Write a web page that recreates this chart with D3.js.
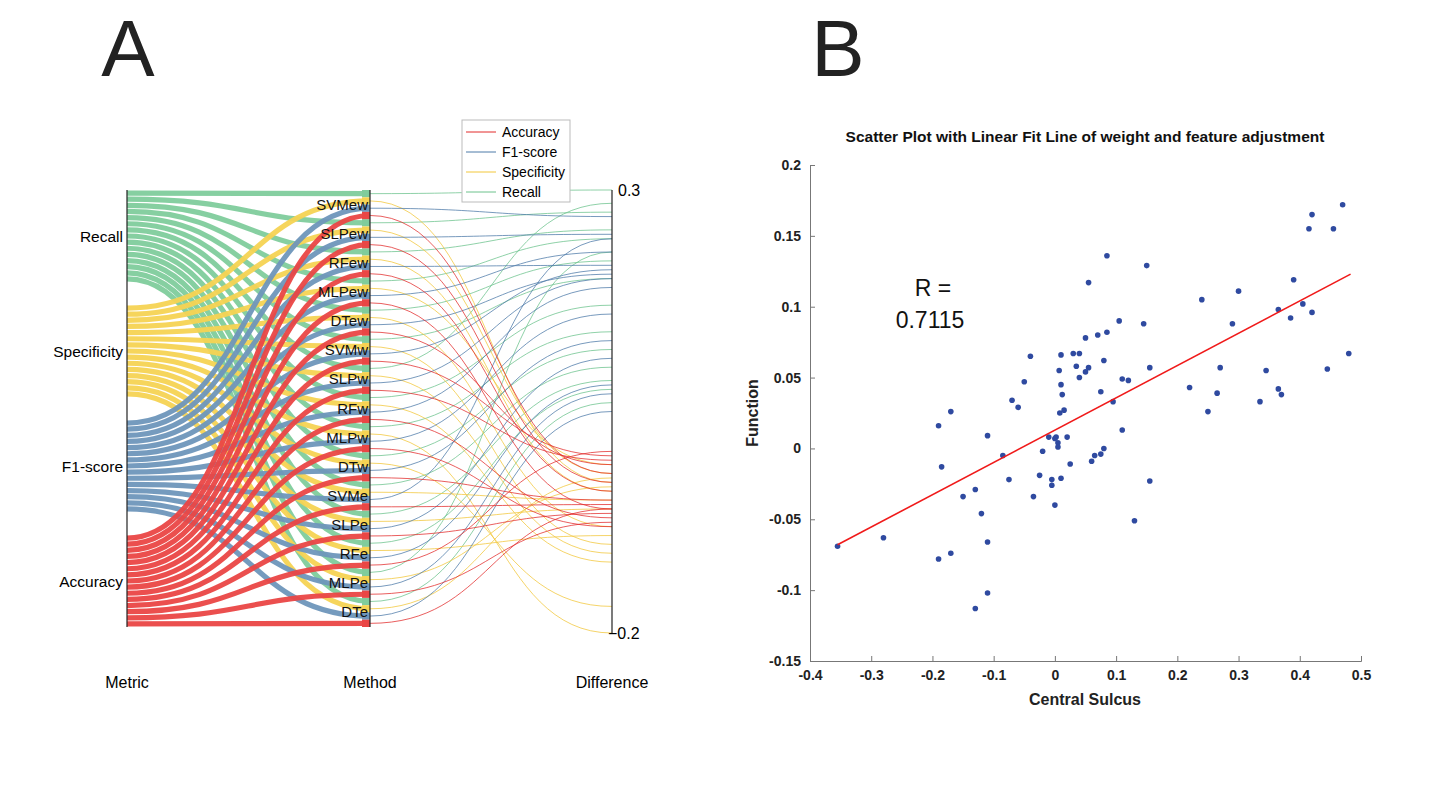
<!DOCTYPE html>
<html><head><meta charset="utf-8">
<script src="https://cdn.jsdelivr.net/npm/d3@7"></script>
<style>body{margin:0;background:#fff}text{font-family:"Liberation Sans",Arial,sans-serif}</style>
</head><body><svg id="c" width="1429" height="795"></svg>
<script>
// ---- panel A data ----
var metrics = ["Recall", "Specificity", "F1-score", "Accuracy"];
var methods = ["SVMew","SLPew","RFew","MLPew","DTew","SVMw","SLPw","RFw","MLPw","DTw","SVMe","SLPe","RFe","MLPe","DTe"];
var diffRecall = [0.30, 0.275, 0.255, 0.245, 0.22, 0.20, 0.285, 0.17, 0.14, 0.12, 0.10, 0.085, 0.075, 0.23, 0.06];
var diffSpec   = [-0.03, -0.02, -0.04, -0.01, -0.08, -0.10, -0.11, -0.12, -0.20, -0.17, -0.05, -0.06, -0.09, -0.035, -0.025];
var diffF1     = [0.27, 0.25, 0.215, 0.23, 0.205, 0.21, 0.20, 0.19, 0.16, 0.13, 0.245, 0.11, 0.08, 0.07, 0.05];
var diffAcc    = [-0.02, -0.03, -0.04, -0.06, -0.01, 0.0, -0.005, -0.07, -0.08, -0.05, -0.055, -0.065, 0.005, -0.075, -0.06];
var diffs = [diffRecall, diffSpec, diffF1, diffAcc];
var bandColors = ["#80cc9c", "#f6d353", "#6e96bb", "#ea4645"];
var lineColors = ["#6cc28c", "#f2c73a", "#4d7aa8", "#e22b2b"];
var legendOrder = ["Accuracy", "F1-score", "Specificity", "Recall"];

// ---- panel B data ----
var sx = [-0.355,-0.28,-0.19,-0.185,-0.17,-0.19,-0.17,-0.15,-0.13,-0.13,-0.12,-0.11,-0.11,-0.11,-0.085,-0.075,-0.07,-0.06,-0.05,-0.04,-0.035,-0.025,-0.02,-0.01,-0.005,-0.005,0,0,0.002,0.005,0.005,0.007,0.008,0.01,0.01,0.01,0.012,0.015,0.02,0.025,0.03,0.035,0.04,0.04,0.05,0.05,0.055,0.055,0.06,0.065,0.07,0.075,0.075,0.08,0.08,0.085,0.085,0.095,0.105,0.11,0.11,0.12,0.13,0.145,0.15,0.155,0.155,0.22,0.24,0.25,0.265,0.27,0.29,0.30,0.335,0.345,0.365,0.365,0.37,0.385,0.39,0.405,0.415,0.42,0.42,0.445,0.455,0.47,0.48];
var sy = [-0.069,-0.063,0.016,-0.013,0.026,-0.078,-0.074,-0.034,-0.029,-0.113,-0.046,0.009,-0.066,-0.102,-0.005,-0.022,0.034,0.029,0.047,0.065,-0.034,-0.019,-0.002,0.008,-0.022,-0.026,-0.04,0.007,0.008,0.004,0.001,0.055,0.025,0.045,0.066,-0.021,0.038,0.027,0.008,-0.011,0.067,0.058,0.067,0.05,0.078,0.054,0.117,0.057,-0.009,-0.005,0.08,-0.004,0.04,0.0,0.062,0.082,0.136,0.033,0.09,0.049,0.013,0.048,-0.051,0.088,0.129,0.057,-0.023,0.043,0.105,0.026,0.039,0.057,0.088,0.111,0.033,0.055,0.098,0.042,0.038,0.092,0.119,0.102,0.155,0.165,0.096,0.056,0.155,0.172,0.067];
var fitX = [-0.355, 0.483];
var fitY = [-0.068, 0.123];
var xTicks = [-0.4,-0.3,-0.2,-0.1,0,0.1,0.2,0.3,0.4,0.5];
var yTicks = [-0.15,-0.1,-0.05,0,0.05,0.1,0.15,0.2];

var svg = d3.select("#c");

// panel letters
svg.append("text").attr("x", 128).attr("y", 76).attr("text-anchor","middle").attr("font-size", 80).attr("fill","#222").text("A");
svg.append("text").attr("x", 838).attr("y", 76).attr("text-anchor","middle").attr("font-size", 80).attr("fill","#222").text("B");

// ===== Panel A =====
var xM = 127, xMe = 370, xD = 612, yTop = 190, yBot = 627;
var mBand = d3.scaleBand().domain(metrics).range([yTop, yBot]).paddingInner(0.2);
var slotM = mBand.bandwidth() / methods.length;
var meBand = d3.scaleBand().domain(methods).range([yTop, yBot]);
var slotMe = meBand.bandwidth() / metrics.length;
var yD = d3.scaleLinear().domain([-0.2, 0.3]).range([yBot + 6, yTop]);

var link = d3.linkHorizontal().x(function(d){return d[0];}).y(function(d){return d[1];});
var gA = svg.append("g");
var recs = [];
metrics.forEach(function(m, i){
  methods.forEach(function(me, j){
    recs.push({m:i, me:j,
      y0: mBand(m) + (j + 0.5) * slotM,
      y1: meBand(me) + (i + 0.5) * slotMe,
      v: diffs[i][j]});
  });
});
// thick ribbons metric -> method
gA.selectAll(".rib").data(recs).enter().append("path")
  .attr("d", function(d){ return link({source:[xM, d.y0], target:[xMe, d.y1]}); })
  .attr("fill","none").attr("stroke", function(d){return bandColors[d.m];})
  .attr("stroke-width", 5.2).attr("opacity", 0.95);
// slot colours on method axis
gA.selectAll(".slot").data(recs).enter().append("rect")
  .attr("x", xMe - 8).attr("width", 8)
  .attr("y", function(d){return d.y1 - slotMe/2;}).attr("height", slotMe)
  .attr("fill", function(d){return bandColors[d.m];});
// thin lines method -> difference
gA.selectAll(".thin").data(recs).enter().append("path")
  .attr("d", function(d){ return link({source:[xMe, d.y1], target:[xD, yD(d.v)]}); })
  .attr("fill","none").attr("stroke", function(d){return lineColors[d.m];})
  .attr("stroke-width", 0.9).attr("opacity", 0.85);

[xM, xMe].forEach(function(x){
  gA.append("line").attr("x1",x).attr("x2",x).attr("y1",yTop).attr("y2",yBot).attr("stroke","#222").attr("stroke-width",1.2);
});
gA.append("line").attr("x1",xD).attr("x2",xD).attr("y1",yD(0.3)).attr("y2",yD(-0.2)).attr("stroke","#222").attr("stroke-width",1.2);
gA.append("text").attr("x", xD + 6).attr("y", yD(0.3) + 6).attr("font-size",16).text("0.3");
gA.append("text").attr("x", xD - 4).attr("y", yD(-0.2) + 6).attr("font-size",16).text("\u22120.2");

metrics.forEach(function(m){
  gA.append("text").attr("x", xM - 4).attr("y", mBand(m) + mBand.bandwidth()/2 + 6)
    .attr("text-anchor","end").attr("font-size",15.5).text(m);
});
methods.forEach(function(me){
  gA.append("text").attr("x", xMe - 2).attr("y", meBand(me) + meBand.bandwidth()/2 + 5)
    .attr("text-anchor","end").attr("font-size",15).attr("fill","#111").text(me);
});
[["Metric",xM],["Method",xMe],["Difference",xD]].forEach(function(t){
  gA.append("text").attr("x",t[1]).attr("y",688).attr("text-anchor","middle").attr("font-size",16).text(t[0]);
});
// legend
var lg = gA.append("g").attr("transform","translate(462,120)");
lg.append("rect").attr("width",108).attr("height",82).attr("fill","#fff").attr("stroke","#bbb");
legendOrder.forEach(function(n, k){
  var i = metrics.indexOf(n);
  lg.append("line").attr("x1",4).attr("x2",34).attr("y1",12+k*20).attr("y2",12+k*20).attr("stroke",lineColors[i]);
  lg.append("text").attr("x",40).attr("y",17+k*20).attr("font-size",14).text(n);
});

// ===== Panel B =====
var x = d3.scaleLinear().domain([-0.4, 0.5]).range([810, 1361]);
var y = d3.scaleLinear().domain([-0.15, 0.2]).range([661, 165]);
var fmt = function(d){ return String(+d.toFixed(2)); };
var styleAxis = function(g){
  g.selectAll("text").attr("font-size",14).attr("font-weight","bold").attr("fill","#222");
  g.select(".domain").attr("stroke","#777"); g.selectAll(".tick line").attr("stroke","#777");
};
var gB = svg.append("g");
gB.append("g").attr("transform","translate(0,661)")
  .call(d3.axisBottom(x).tickValues(xTicks).tickSize(-5).tickPadding(9).tickFormat(fmt)).call(styleAxis);
gB.append("g").attr("transform","translate(810,0)")
  .call(d3.axisLeft(y).tickValues(yTicks).tickSize(-5).tickPadding(9).tickFormat(fmt)).call(styleAxis);
gB.selectAll(".dot").data(sx).enter().append("circle")
  .attr("cx", function(d){return x(d);}).attr("cy", function(d,i){return y(sy[i]);})
  .attr("r", 2.8).attr("fill","#2f4aa0");
gB.append("line").attr("x1",x(fitX[0])).attr("y1",y(fitY[0])).attr("x2",x(fitX[1])).attr("y2",y(fitY[1]))
  .attr("stroke","#f01a1a").attr("stroke-width",1.6);
gB.append("text").attr("x",1085).attr("y",142).attr("text-anchor","middle").attr("font-size",15.5).attr("font-weight","bold").attr("fill","#111")
  .text("Scatter Plot with Linear Fit Line of weight and feature adjustment");
gB.append("text").attr("x",1085).attr("y",705).attr("text-anchor","middle").attr("font-size",16).attr("font-weight","bold").attr("fill","#222").text("Central Sulcus");
gB.append("text").attr("transform","translate(758,413) rotate(-90)").attr("text-anchor","middle").attr("font-size",16).attr("font-weight","bold").attr("fill","#222").text("Function");
gB.append("text").attr("x",933).attr("y",296).attr("text-anchor","middle").attr("font-size",23).attr("fill","#111").text("R =");
gB.append("text").attr("x",930).attr("y",328).attr("text-anchor","middle").attr("font-size",23).attr("fill","#111").text("0.7115");
</script></body></html>
